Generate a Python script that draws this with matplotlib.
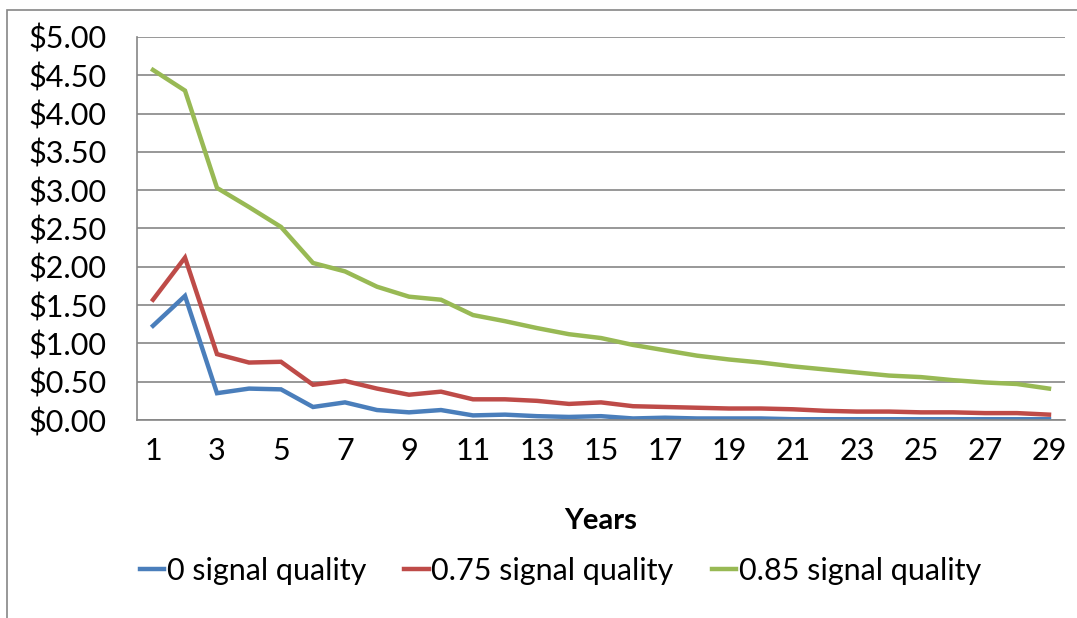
import matplotlib
matplotlib.use("Agg")
import matplotlib.pyplot as plt
from matplotlib.patches import Rectangle
from matplotlib.ticker import FuncFormatter

plt.rcParams['font.family'] = ['Lato', 'DejaVu Sans']

years = list(range(1, 30))
q0 = [1.23, 1.62, 0.35, 0.41, 0.40, 0.17, 0.23, 0.13, 0.10, 0.13,
      0.06, 0.07, 0.05, 0.04, 0.05, 0.02, 0.03, 0.02, 0.02, 0.02,
      0.01, 0.01, 0.01, 0.01, 0.01, 0.01, 0.01, 0.01, 0.01]
q075 = [1.57, 2.12, 0.86, 0.75, 0.76, 0.46, 0.51, 0.41, 0.33, 0.37,
        0.27, 0.27, 0.25, 0.21, 0.23, 0.18, 0.17, 0.16, 0.15, 0.15,
        0.14, 0.12, 0.11, 0.11, 0.10, 0.10, 0.09, 0.09, 0.07]
q085 = [4.57, 4.30, 3.03, 2.78, 2.52, 2.05, 1.94, 1.74, 1.61, 1.57,
        1.37, 1.29, 1.20, 1.12, 1.07, 0.98, 0.91, 0.84, 0.79, 0.75,
        0.70, 0.66, 0.62, 0.58, 0.56, 0.52, 0.49, 0.47, 0.41]
labels = ['0 signal quality', '0.75 signal quality', '0.85 signal quality']
colors = ['#4A7EBB', '#BE4B48', '#98B954']

fig = plt.figure(figsize=(10.77, 6.18), dpi=100)
ax = fig.add_axes([137 / 1077, 1 - 420 / 618, (1065 - 137) / 1077, (420 - 37) / 618])

for ys, lab, c in zip([q0, q075, q085], labels, colors):
    ax.plot(years, ys, color=c, lw=3.2, label=lab, solid_joinstyle='miter')

ax.set_xlim(0.5, 29.5)
ax.set_ylim(0, 5)
ax.set_yticks([i * 0.5 for i in range(11)])
ax.yaxis.set_major_formatter(FuncFormatter(lambda v, p: f'${v:.2f}'))
ax.set_xticks(years[::2])
ax.tick_params(length=0, labelsize=22)
ax.tick_params(axis='y', pad=22)
ax.tick_params(axis='x', pad=12)
ax.grid(axis='y', color='#868686', lw=1.2)
ax.set_axisbelow(True)
for s in ['top', 'right']:
    ax.spines[s].set_visible(False)
for s in ['left', 'bottom']:
    ax.spines[s].set_color('#868686')
    ax.spines[s].set_linewidth(1.2)

ax.set_xlabel('Years', fontsize=21, fontweight='bold', labelpad=31)
ax.legend(loc='center left', bbox_to_anchor=(140 / 1077, 1 - 571 / 618),
          bbox_transform=fig.transFigure, ncol=3, frameon=False,
          borderpad=0, borderaxespad=0,
          fontsize=22, handlelength=0.8, handletextpad=0.08, columnspacing=1.25)

fig.patches.append(Rectangle((7 / 1077, -0.05), 1.1, 1 - 10 / 618 + 0.05,
                             transform=fig.transFigure, fill=False,
                             edgecolor='#868686', lw=1.2))

fig.savefig('out.png', dpi=100)
